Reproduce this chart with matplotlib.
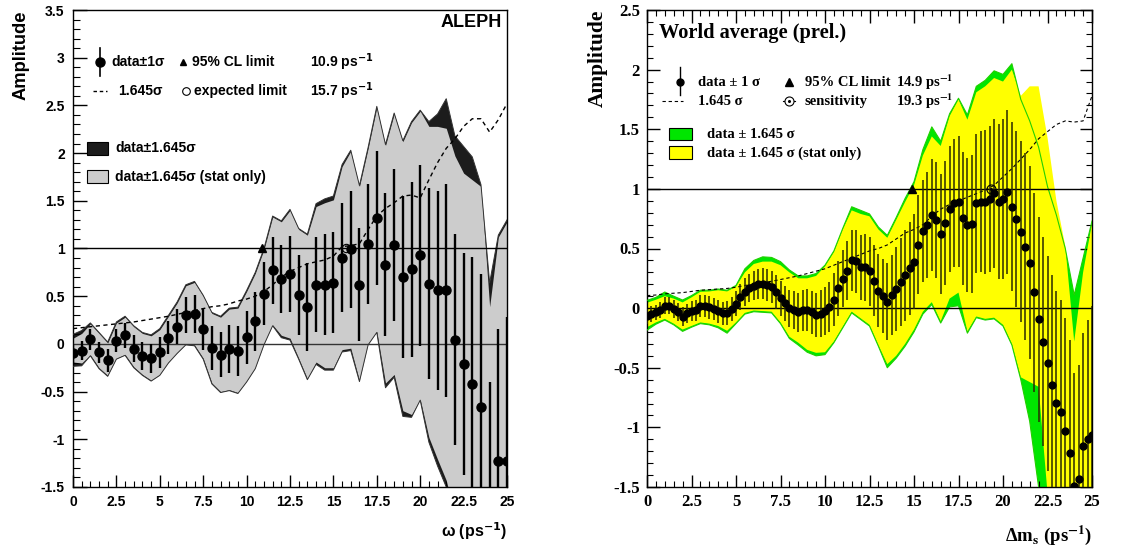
import numpy as np
import matplotlib
matplotlib.use("Agg")
import matplotlib.pyplot as plt
from matplotlib.ticker import MultipleLocator, FuncFormatter
from matplotlib.patches import Rectangle

plt.rcParams['axes.unicode_minus'] = False

SANS = ['Liberation Sans', 'DejaVu Sans']
SERIF = ['Liberation Serif', 'DejaVu Serif']

# ---------------- ALEPH panel data (omega = 0..25 step 0.5) ----------------
omega = np.arange(0, 25.01, 0.5)
amp_L = [-0.10, -0.07, 0.05, -0.09, -0.17, 0.035, 0.09, -0.05, -0.125, -0.15,
         -0.09, 0.065, 0.18, 0.30, 0.31, 0.155, -0.045, -0.115, -0.05, -0.075,
         0.07, 0.235, 0.525, 0.77, 0.68, 0.73, 0.51, 0.39, 0.62, 0.62,
         0.64, 0.905, 0.99, 0.62, 1.05, 1.32, 0.83, 1.035, 0.70, 0.78,
         0.93, 0.63, 0.56, 0.56, 0.046, -0.21, -0.42, -0.66, -1.8, -1.23, -1.225]
sig_L = [0.10, 0.10, 0.11, 0.11, 0.12, 0.12, 0.13, 0.14, 0.145, 0.15,
         0.16, 0.17, 0.185, 0.19, 0.20, 0.22, 0.23, 0.235, 0.25, 0.26,
         0.28, 0.31, 0.33, 0.35, 0.36, 0.40, 0.42, 0.46, 0.50, 0.53,
         0.53, 0.57, 0.61, 0.59, 0.63, 0.705, 0.75, 0.80, 0.85, 0.92,
         0.95, 1.0, 1.04, 1.12, 1.11, 1.16, 1.33, 1.39, 1.4, 1.39, 1.51]
dash_L = [0.16, 0.17, 0.18, 0.19, 0.20, 0.21, 0.22, 0.23, 0.245, 0.26,
          0.275, 0.29, 0.31, 0.33, 0.35, 0.37, 0.39, 0.40, 0.42, 0.45,
          0.47, 0.50, 0.55, 0.62, 0.70, 0.76, 0.80, 0.84, 0.86, 0.88,
          0.92, 1.02, 1.03, 1.05, 1.20, 1.34, 1.42, 1.48, 1.55, 1.56,
          1.53, 1.72, 1.90, 2.05, 2.15, 2.28, 2.36, 2.36, 2.22, 2.35, 2.52]
hi_L = [0.06, 0.11, 0.21, 0.11, 0.01, 0.22, 0.28, 0.18, 0.11, 0.085,
        0.15, 0.29, 0.43, 0.61, 0.645, 0.50, 0.32, 0.28, 0.365, 0.375,
        0.55, 0.74, 0.99, 1.33, 1.28, 1.40, 1.20, 1.14, 1.44, 1.48,
        1.51, 1.86, 2.02, 1.65, 2.05, 2.48, 2.08, 2.41, 2.12, 2.32,
        2.44, 2.28, 2.28, 2.26, 1.97, 1.79, 1.72, 1.65, 0.39, 1.12, 1.28]
dhi_L = [0.04, 0.03, 0.01, 0.01, 0.01, 0.01, 0.01, 0.01, 0.01, 0.01,
         0.01, 0.01, 0.01, 0.01, 0.01, 0.01, 0.01, 0.01, 0.01, 0.01,
         0.01, 0.01, 0.01, 0.01, 0.01, 0.01, 0.01, 0.01, 0.03, 0.04,
         0.04, 0.02, 0.01, 0.01, 0.01, 0.01, 0.01, 0.01, 0.01, 0.01,
         0.01, 0.05, 0.13, 0.31, 0.21, 0.28, 0.24, 0.02, 0.25, 0.02, 0.02]
lo_L = [-0.19, -0.20, -0.115, -0.25, -0.33, -0.15, -0.11, -0.24, -0.32, -0.38,
        -0.32, -0.19, -0.09, 0.0, -0.01, -0.15, -0.41, -0.50, -0.48, -0.51,
        -0.39, -0.25, 0.0, 0.2, 0.09, 0.06, -0.15, -0.365, -0.19, -0.25,
        -0.25, -0.06, -0.045, -0.385, 0.0, 0.13, -0.41, -0.32, -0.70, -0.74,
        -0.58, -0.98, -1.21, -1.43, -1.8, -2.0, -2.2, -2.4, -2.6, -2.8, -3.0]
dlo_L = [0.045, 0.03, 0.01, 0.01, 0.01, 0.01, 0.01, 0.01, 0.01, 0.01,
         0.01, 0.01, 0.01, 0.01, 0.01, 0.01, 0.01, 0.01, 0.01, 0.01,
         0.01, 0.01, 0.01, 0.01, 0.025, 0.02, 0.01, 0.01, 0.025, 0.025,
         0.025, 0.025, 0.025, 0.01, 0.01, 0.01, 0.05, 0.03, 0.06, 0.03,
         0.01, 0.05, 0.07, 0.07, 0.2, 0.2, 0.2, 0.2, 0.2, 0.2, 0.2]
limit_L = 10.9
expected_L = 15.7

# ---------------- World average panel data ----------------
dms = np.arange(0, 25.01, 0.25)
amp_R = [-0.07, -0.05, -0.036, -0.017, 0.022, 0.02, -0.01, -0.034,
         -0.073, -0.044, -0.024, -0.016, 0.02, 0.018, 0.006, -0.007,
         -0.025, -0.045, -0.041, -0.005, 0.038, 0.091, 0.137, 0.169,
         0.187, 0.2, 0.204, 0.195, 0.177, 0.133, 0.082, 0.039,
         0.0, -0.014, -0.035, -0.018, -0.017, -0.035, -0.058, -0.046,
         -0.025, 0.011, 0.072, 0.166, 0.247, 0.314, 0.40, 0.392,
         0.342, 0.342, 0.308, 0.228, 0.146, 0.103, 0.054, 0.11,
         0.159, 0.22, 0.275, 0.334, 0.389, 0.533, 0.645, 0.698,
         0.782, 0.74, 0.62, 0.712, 0.832, 0.88, 0.894, 0.754,
         0.698, 0.706, 0.88, 0.894, 0.89, 0.916, 0.964, 0.894,
         0.916, 0.972, 0.852, 0.748, 0.64, 0.516, 0.382, 0.134,
         -0.092, -0.28, -0.464, -0.643, -0.794, -0.875, -1.034, -1.216,
         -1.49, -1.43, -1.16, -1.10, -1.06]
sig_R = [0.064, 0.065, 0.066, 0.068, 0.072, 0.073, 0.075, 0.077,
         0.079, 0.082, 0.085, 0.088, 0.091, 0.093, 0.094, 0.096,
         0.097, 0.099, 0.10, 0.102, 0.106, 0.11, 0.115, 0.118,
         0.122, 0.126, 0.131, 0.134, 0.137, 0.141, 0.146, 0.15,
         0.155, 0.16, 0.164, 0.17, 0.176, 0.182, 0.188, 0.194,
         0.20, 0.21, 0.219, 0.228, 0.237, 0.246, 0.255, 0.265,
         0.274, 0.283, 0.292, 0.298, 0.304, 0.313, 0.322, 0.337,
         0.353, 0.368, 0.383, 0.39, 0.40, 0.413, 0.426, 0.447,
         0.468, 0.487, 0.505, 0.518, 0.53, 0.538, 0.547, 0.556,
         0.565, 0.575, 0.584, 0.592, 0.60, 0.613, 0.626, 0.648,
         0.67, 0.69, 0.71, 0.735, 0.76, 0.785, 0.81, 0.835,
         0.86, 0.88, 0.90, 0.92, 0.94, 0.945, 0.95, 0.95,
         0.95, 0.95, 0.95, 1.0, 1.08]
band_x = np.arange(0, 25.01, 0.5)
dash_R = [0.105, 0.11, 0.12, 0.125, 0.13, 0.14, 0.15, 0.155, 0.16, 0.165,
          0.175, 0.19, 0.20, 0.215, 0.225, 0.24, 0.255, 0.27, 0.29, 0.31,
          0.33, 0.36, 0.39, 0.42, 0.45, 0.48, 0.50, 0.53, 0.58, 0.63,
          0.66, 0.70, 0.77, 0.83, 0.87, 0.90, 0.93, 0.96, 0.99, 1.03,
          1.10, 1.17, 1.25, 1.33, 1.42, 1.48, 1.54, 1.57, 1.56, 1.57, 1.78]
hi_R = [0.045, 0.07, 0.10, 0.08, 0.048, 0.09, 0.137, 0.14, 0.15, 0.14,
        0.18, 0.30, 0.37, 0.39, 0.39, 0.36, 0.30, 0.25, 0.25, 0.27,
        0.35, 0.47, 0.66, 0.82, 0.79, 0.77, 0.66, 0.59, 0.74, 0.89,
        1.03, 1.28, 1.44, 1.36, 1.61, 1.75, 1.58, 1.81, 1.86, 1.93,
        1.90, 2.0, 1.78, 1.86, 1.86, 1.43, 0.90, 0.52, -0.28, 0.30, 0.71]
gup_R = [0.065, 0.09, 0.135, 0.10, 0.068, 0.105, 0.15, 0.15, 0.16, 0.15,
         0.19, 0.33, 0.40, 0.43, 0.425, 0.39, 0.32, 0.27, 0.27, 0.29,
         0.36, 0.48, 0.67, 0.85, 0.82, 0.79, 0.68, 0.61, 0.76, 0.92,
         1.06, 1.33, 1.52, 1.40, 1.63, 1.76, 1.62, 1.86, 1.91, 1.99,
         1.96, 2.05, 1.75, 1.57, 1.35, 1.02, 0.78, 0.50, 0.11, 0.42, 0.73]
lo_R = [-0.16, -0.12, -0.09, -0.13, -0.18, -0.15, -0.12, -0.13, -0.15, -0.19,
        -0.12, -0.04, -0.02, -0.025, -0.03, -0.12, -0.24, -0.29, -0.35, -0.375,
        -0.37, -0.28, -0.155, -0.03, -0.085, -0.14, -0.31, -0.47, -0.40, -0.30,
        -0.18, -0.03, 0.05, -0.11, 0.08, 0.13, -0.195, -0.07, -0.09, -0.08,
        -0.14, -0.30, -0.58, -0.62, -0.66, -1.55, -2.0, -2.3, -2.5, -2.6, -2.7]
glo_R = [-0.185, -0.135, -0.10, -0.14, -0.195, -0.16, -0.13, -0.14, -0.165, -0.21,
         -0.13, -0.05, -0.03, -0.035, -0.04, -0.13, -0.255, -0.31, -0.37, -0.40,
         -0.39, -0.29, -0.165, -0.04, -0.095, -0.15, -0.32, -0.50, -0.42, -0.32,
         -0.20, -0.05, 0.03, -0.125, 0.01, 0.02, -0.21, -0.08, -0.10, -0.09,
         -0.15, -0.31, -0.60, -0.95, -1.5, -2.2, -2.5, -2.6, -2.7, -2.8, -2.9]
limit_R = 14.9
sens_R = 19.3

GRAY = '#cccccc'
DARK = '#1c1c1c'
GREEN = '#00e600'
YELLOW = '#ffff00'

fig = plt.figure(figsize=(11.41, 5.5), dpi=100)
W, H = 1141.0, 550.0
axL = fig.add_axes([73 / W, 1 - 487 / H, 434 / W, 477 / H])
axR = fig.add_axes([647 / W, 1 - 487 / H, 445 / W, 477 / H])

fmt = FuncFormatter(lambda v, p: '%g' % v)

# ---------------- Left panel ----------------
aL = np.array(amp_L)
hL = np.array(hi_L); lL = np.array(lo_L)
oh = hL + np.array(dhi_L); ol = lL - np.array(dlo_L)
axL.fill_between(omega, ol, oh, color=DARK, lw=0, zorder=1)
axL.fill_between(omega, lL, hL, color=GRAY, lw=0, zorder=2)
axL.plot(omega, oh, color='#333333', lw=0.7, zorder=3)
axL.plot(omega, ol, color='#333333', lw=0.7, zorder=3)
axL.axhline(0, color='#333333', lw=1.0, zorder=4)
axL.axhline(1, color='black', lw=1.0, zorder=4)
axL.plot(omega, dash_L, color='black', lw=1.0, ls=(0, (3, 2.5)), zorder=5)
axL.errorbar(omega, aL, yerr=sig_L, fmt='o', color='black', ms=6.5,
             elinewidth=1.7, capsize=0, zorder=6)
axL.plot([limit_L], [1.0], marker='^', color='black', ms=5.5, zorder=7, ls='none')
axL.plot([expected_L], [1.0], marker='o', mfc='none', mec='black', ms=6,
         mew=0.8, zorder=7, ls='none')
axL.set_xlim(0, 25)
axL.set_ylim(-1.5, 3.5)
axL.xaxis.set_major_locator(MultipleLocator(2.5))
axL.xaxis.set_minor_locator(MultipleLocator(0.5))
axL.yaxis.set_major_locator(MultipleLocator(0.5))
axL.yaxis.set_minor_locator(MultipleLocator(0.1))
axL.xaxis.set_major_formatter(fmt)
axL.yaxis.set_major_formatter(fmt)
axL.tick_params(which='both', direction='in', top=False, right=False)
axL.tick_params(axis='y', which='major', length=10, width=1)
axL.tick_params(axis='y', which='minor', length=5, width=0.8)
axL.tick_params(axis='x', which='major', length=9, width=1)
axL.tick_params(axis='x', which='minor', length=4.5, width=0.8)
axL.tick_params(axis='both', labelsize=10, pad=6)
for lab in axL.get_xticklabels() + axL.get_yticklabels():
    lab.set_fontweight('bold'); lab.set_family(SANS)
for s in axL.spines.values():
    s.set_linewidth(1.0)
axL.set_ylabel('Amplitude', fontsize=13.2, fontweight='bold', family=SANS,
               loc='top', labelpad=8)
axL.set_xlabel('ω (ps$^{\\mathbf{-1}}$)', fontsize=11.5, fontweight='bold',
               family=SANS, loc='right', labelpad=8, math_fontfamily='dejavusans')

tL = dict(transform=axL.transAxes, fontweight='bold', family=SANS, fontsize=10,
          va='center', math_fontfamily='dejavusans')
axL.text(0.988, 0.973, 'ALEPH', ha='right', va='center', transform=axL.transAxes,
         fontweight='bold', family=SANS, fontsize=13)
axL.plot([0.0622], [0.891], 'o', color='black', ms=6.5, transform=axL.transAxes)
axL.plot([0.0622, 0.0622], [0.862, 0.920], color='black', lw=1.2, transform=axL.transAxes)
axL.text(0.0876, 0.891, 'data±1σ', **tL)
axL.plot([0.2535], [0.891], '^', color='black', ms=5, transform=axL.transAxes)
axL.text(0.274, 0.891, '95% CL limit', **tL)
axL.text(0.546, 0.891, '10.9 ps$^{\\mathbf{-1}}$', **tL)
axL.plot([0.046, 0.078], [0.830, 0.830], color='black', lw=1.0, ls=(0, (2.5, 2)),
         transform=axL.transAxes)
axL.text(0.104, 0.830, '1.645σ', **tL)
axL.plot([0.260], [0.830], 'o', mfc='none', mec='black', ms=5.5, mew=0.8,
         transform=axL.transAxes)
axL.text(0.279, 0.830, 'expected limit', **tL)
axL.text(0.546, 0.830, '15.7 ps$^{\\mathbf{-1}}$', **tL)
axL.add_patch(Rectangle((0.032, 0.696), 0.049, 0.028, transform=axL.transAxes,
                        facecolor=DARK, edgecolor='black', lw=0.8))
axL.text(0.097, 0.711, 'data±1.645σ', **tL)
axL.add_patch(Rectangle((0.032, 0.637), 0.049, 0.028, transform=axL.transAxes,
                        facecolor=GRAY, edgecolor='black', lw=0.8))
axL.text(0.097, 0.650, 'data±1.645σ (stat only)', **tL)

# ---------------- Right panel ----------------
axR.fill_between(band_x, glo_R, gup_R, color=GREEN, lw=0, zorder=1)
axR.fill_between(band_x, lo_R, hi_R, color=YELLOW, lw=0, zorder=2)
axR.plot(band_x, gup_R, color='#22d000', lw=0.8, zorder=3)
axR.plot(band_x, glo_R, color='#22d000', lw=0.8, zorder=3)
axR.axhline(0, color='black', lw=1.0, zorder=4)
axR.axhline(1, color='black', lw=1.0, zorder=4)
axR.plot(band_x, dash_R, color='black', lw=0.8, ls=(0, (3, 2.5)), zorder=5)
axR.errorbar(dms, amp_R, yerr=sig_R, fmt='o', color='black', ecolor='#2a2a00',
             ms=5, elinewidth=1.1, capsize=0, zorder=6)
axR.plot([limit_R], [1.0], marker='^', color='black', ms=6, zorder=7, ls='none')
axR.plot([sens_R], [1.0], marker='o', mfc='none', mec='black', ms=6.5, mew=0.8,
         zorder=7, ls='none')
axR.plot([sens_R], [1.0], marker='o', color='black', ms=1.2, zorder=7, ls='none')
axR.set_xlim(0, 25)
axR.set_ylim(-1.5, 2.5)
axR.xaxis.set_major_locator(MultipleLocator(2.5))
axR.xaxis.set_minor_locator(MultipleLocator(0.5))
axR.yaxis.set_major_locator(MultipleLocator(0.5))
axR.yaxis.set_minor_locator(MultipleLocator(0.1))
axR.xaxis.set_major_formatter(fmt)
axR.yaxis.set_major_formatter(fmt)
axR.tick_params(which='both', direction='in', top=True, right=True)
axR.tick_params(axis='both', which='major', length=9, width=1)
axR.tick_params(axis='both', which='minor', length=4.5, width=0.8)
axR.tick_params(axis='both', labelsize=12, pad=5)
for lab in axR.get_xticklabels() + axR.get_yticklabels():
    lab.set_fontweight('bold'); lab.set_family(SERIF)
for s in axR.spines.values():
    s.set_linewidth(1.0)
axR.set_ylabel('Amplitude', fontsize=15.4, fontweight='bold', family=SERIF,
               loc='top', labelpad=4)
axR.set_xlabel('Δm$_{\\mathbf{s}}$ (ps$^{\\mathbf{-1}}$)', fontsize=13.5,
               fontweight='bold', family=SERIF, loc='right', labelpad=10,
               math_fontfamily='stix')

tR = dict(transform=axR.transAxes, fontweight='bold', family=SERIF, fontsize=10.5,
          va='center', math_fontfamily='stix')
axR.text(0.027, 0.952, 'World average (prel.)', transform=axR.transAxes,
         fontweight='bold', family=SERIF, fontsize=14.7, va='center')
axR.plot([0.074], [0.849], 'o', color='black', ms=5, transform=axR.transAxes)
axR.plot([0.074, 0.074], [0.822, 0.881], color='black', lw=1.0, transform=axR.transAxes)
axR.text(0.1146, 0.849, 'data ± 1 σ', **tR)
axR.plot([0.319], [0.849], '^', color='black', ms=6, transform=axR.transAxes)
axR.text(0.355, 0.849, '95% CL limit', **tR)
axR.text(0.5596, 0.849, '14.9 ps$^{\\mathbf{-1}}$', **tR)
axR.plot([0.034, 0.081], [0.809, 0.809], color='black', lw=0.8, ls=(0, (3, 2.5)),
         transform=axR.transAxes)
axR.text(0.1146, 0.809, '1.645 σ', **tR)
axR.plot([0.305, 0.333], [0.809, 0.809], color='black', lw=0.8, transform=axR.transAxes)
axR.plot([0.319], [0.809], 'o', mfc='white', mec='black', ms=6.5, mew=0.8,
         transform=axR.transAxes)
axR.plot([0.319], [0.809], 'o', color='black', ms=1.2, transform=axR.transAxes)
axR.text(0.355, 0.809, 'sensitivity', **tR)
axR.text(0.5596, 0.809, '19.3 ps$^{\\mathbf{-1}}$', **tR)
axR.add_patch(Rectangle((0.049, 0.727), 0.052, 0.026, transform=axR.transAxes,
                        facecolor=GREEN, edgecolor='black', lw=0.8))
axR.text(0.135, 0.740, 'data ± 1.645 σ', **tR)
axR.add_patch(Rectangle((0.049, 0.688), 0.052, 0.026, transform=axR.transAxes,
                        facecolor=YELLOW, edgecolor='black', lw=0.8))
axR.text(0.135, 0.699, 'data ± 1.645 σ (stat only)', **tR)

fig.savefig('out.png', dpi=100)
